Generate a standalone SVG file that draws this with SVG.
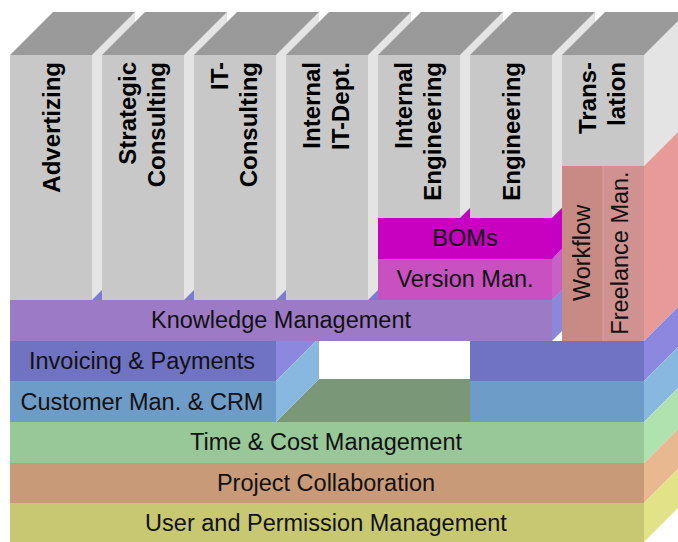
<svg xmlns="http://www.w3.org/2000/svg" width="678" height="542" viewBox="0 0 678 542">
<style>
.colf{fill:#C8C8C8}
.colt{fill:#9A9A9A}
.cols{fill:#E4E4E4}
.ct{font-family:"Liberation Sans",Arial,sans-serif;font-size:24px;font-weight:bold;fill:#000}
.lt{font-family:"Liberation Sans",Arial,sans-serif;font-size:23.5px;fill:#111;text-anchor:middle}
.rt{font-family:"Liberation Sans",Arial,sans-serif;font-size:23.5px;fill:#111;text-anchor:middle}
</style>
<rect width="678" height="542" fill="#FFFFFF"/>

<!-- right side faces -->
<g id="side-faces">
<polygon points="644,55 687,12 687,123 644,166" fill="#E4E4E4"/>
<polygon points="644,166 687,123 687,298 644,341" fill="#E89A98"/>
<polygon points="644,341 687,298 687,338 644,381" fill="#8C88E0"/>
<polygon points="644,381 687,338 687,379 644,422" fill="#88B8E0"/>
<polygon points="644,422 687,379 687,420 644,463" fill="#B0E2B0"/>
<polygon points="644,463 687,420 687,460 644,503" fill="#E8B890"/>
<polygon points="644,503 687,460 687,499 644,542" fill="#E2E288"/>
</g>

<g id="user-permission">
<rect x="10" y="503" width="634" height="39" fill="#C8C872"/>
<text class="lt" x="326" y="531">User and Permission Management</text>
</g>
<g id="project-collaboration">
<rect x="10" y="463" width="634" height="40" fill="#C89A78"/>
<text class="lt" x="326" y="491">Project Collaboration</text>
</g>
<g id="time-cost">
<rect x="10" y="422" width="634" height="41" fill="#98C898"/>
<polygon points="276,422 319,379 470,379 470,422" fill="#7A9878"/>
<text class="lt" x="326" y="450">Time &amp; Cost Management</text>
</g>

<g id="crm-invoicing-right">
<rect x="470" y="341" width="174" height="40" fill="#7072C2"/>
<rect x="470" y="381" width="174" height="41" fill="#6E9CC8"/>
</g>
<g id="invoicing">
<polygon points="276,341 319,298 319,338 276,381" fill="#8C88E0"/>
<rect x="10" y="341" width="266" height="40" fill="#7072C2"/>
<text class="lt" x="142" y="369">Invoicing &amp; Payments</text>
</g>
<g id="crm">
<polygon points="276,381 319,338 319,379 276,422" fill="#88B8E0"/>
<rect x="10" y="381" width="266" height="41" fill="#6E9CC8"/>
<text class="lt" x="142" y="410">Customer Man. &amp; CRM</text>
</g>

<!-- top faces of layers under the columns -->
<polygon points="10,300 53,257 595,257 552,300" fill="#7C7AD4"/>
<polygon points="378,218 421,175 595,175 552,218" fill="#C400C4"/>

<g id="advertizing">
<polygon class="cols" points="92,55 135,12 135,257 92,300"/>
<polygon class="colt" points="10,55 53,12 135,12 92,55"/>
<rect class="colf" x="10" y="55" width="82" height="245"/>
<text class="ct" text-anchor="end" transform="translate(60,62) rotate(-90)">Advertizing</text>
</g>
<g id="strategic-consulting">
<polygon class="cols" points="184,55 227,12 227,257 184,300"/>
<polygon class="colt" points="102,55 145,12 227,12 184,55"/>
<rect class="colf" x="102" y="55" width="82" height="245"/>
<text class="ct" text-anchor="end" transform="translate(136,62) rotate(-90)">Strategic</text>
<text class="ct" text-anchor="end" transform="translate(165,62) rotate(-90)">Consulting</text>
</g>
<g id="it-consulting">
<polygon class="cols" points="276,55 319,12 319,257 276,300"/>
<polygon class="colt" points="194,55 237,12 319,12 276,55"/>
<rect class="colf" x="194" y="55" width="82" height="245"/>
<text class="ct" text-anchor="end" transform="translate(228,62) rotate(-90)">IT-</text>
<text class="ct" text-anchor="end" transform="translate(257,62) rotate(-90)">Consulting</text>
</g>
<g id="internal-it-dept">
<polygon class="cols" points="368,55 411,12 411,257 368,300"/>
<polygon class="colt" points="286,55 329,12 411,12 368,55"/>
<rect class="colf" x="286" y="55" width="82" height="245"/>
<text class="ct" text-anchor="end" transform="translate(320,62) rotate(-90)">Internal</text>
<text class="ct" text-anchor="end" transform="translate(349,62) rotate(-90)">IT-Dept.</text>
</g>
<g id="internal-engineering">
<polygon class="cols" points="460,55 503,12 503,175 460,218"/>
<polygon class="colt" points="378,55 421,12 503,12 460,55"/>
<rect class="colf" x="378" y="55" width="82" height="163"/>
<text class="ct" text-anchor="end" transform="translate(412,62) rotate(-90)">Internal</text>
<text class="ct" text-anchor="end" transform="translate(441,62) rotate(-90)">Engineering</text>
</g>
<g id="engineering">
<polygon class="cols" points="552,55 595,12 595,175 552,218"/>
<polygon class="colt" points="470,55 513,12 595,12 552,55"/>
<rect class="colf" x="470" y="55" width="82" height="163"/>
<text class="ct" text-anchor="end" transform="translate(520,62) rotate(-90)">Engineering</text>
</g>
<g id="translation">
<polygon class="colt" points="562,55 605,12 687,12 644,55"/>
<rect class="colf" x="562" y="55" width="82" height="111"/>
<text class="ct" text-anchor="end" transform="translate(596,62) rotate(-90)">Trans-</text>
<text class="ct" text-anchor="end" transform="translate(625,62) rotate(-90)">lation</text>
</g>

<g id="knowledge-management">
<polygon points="552,300 562,290 562,331 552,341" fill="#8A88D8"/>
<rect x="10" y="300" width="542" height="41" fill="#9C7AC6"/>
<text class="lt" x="281" y="328">Knowledge Management</text>
</g>
<g id="version-man">
<polygon points="552,259 562,249 562,290 552,300" fill="#C860C8"/>
<rect x="378" y="259" width="174" height="41" fill="#C850C0"/>
<text class="lt" x="465" y="287">Version Man.</text>
</g>
<g id="boms">
<polygon points="552,218 562,208 562,249 552,259" fill="#C400C4"/>
<rect x="378" y="218" width="174" height="41" fill="#C800C0"/>
<text class="lt" x="465" y="246">BOMs</text>
</g>

<g id="workflow">
<rect x="562" y="166" width="41" height="175" fill="#C88A84"/>
<text class="rt" transform="translate(590,253) rotate(-90)">Workflow</text>
</g>
<g id="freelance-man">
<rect x="603" y="166" width="41" height="175" fill="#D09290"/>
<line x1="603" y1="166" x2="603" y2="341" stroke="#D8A09A" stroke-width="1"/>
<text class="rt" transform="translate(628,253) rotate(-90)">Freelance Man.</text>
</g>
</svg>
